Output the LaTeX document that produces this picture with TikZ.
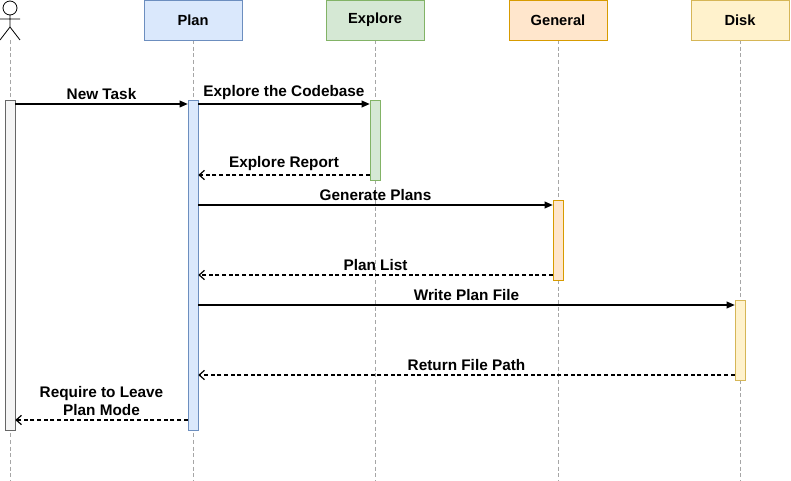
\documentclass[tikz,border=0pt]{standalone}
\usepackage{fontspec}
\setmainfont{Liberation Sans}
\usetikzlibrary{arrows.meta, positioning}
\definecolor{PlanFill}{HTML}{DAE8FC}
\definecolor{PlanLine}{HTML}{6C8EBF}
\definecolor{ExploreFill}{HTML}{D5E8D4}
\definecolor{ExploreLine}{HTML}{82B366}
\definecolor{GeneralFill}{HTML}{FFE6CC}
\definecolor{GeneralLine}{HTML}{D79B00}
\definecolor{DiskFill}{HTML}{FFF2CC}
\definecolor{DiskLine}{HTML}{D6B656}

\begin{document}
\begin{tikzpicture}[x=0.75pt, y=-0.75pt,
          head/.style={rectangle, minimum width=73.5pt, minimum height=30pt, font=\bfseries\fontsize{11}{13}\selectfont},
          life/.style={densely dashed, gray!70, line width=0.5pt},
          bar/.style={rectangle, minimum width=7.5pt, inner sep=0pt},
          call/.style={-{Triangle[length=6pt, width=5pt]}, line width=0.9pt},
          reply/.style={-{Straight Barb[length=4pt, width=7pt]}, line width=0.9pt, dash pattern=on 3pt off 2pt},
          lbl/.style={above, font=\bfseries\fontsize{11.5}{13}\selectfont, inner sep=3pt, align=center}
        ]
          \useasboundingbox (0,0) rectangle (791,481);

          % lifelines
          \draw [life] (10,40) -- (10,481);
          \draw [life] (193,40) -- (193,481);
          \draw [life] (375,40) -- (375,481);
          \draw [life] (558,40) -- (558,481);
          \draw [life] (740,40) -- (740,481);

          % actor
          \draw [line width=0.6pt] (10,8) circle (7);
          \draw [line width=0.6pt] (10,15) -- (10,27) (0,19) -- (20,19) (0,40) -- (10,27) -- (20,40);

          % headers
          \node (plan) [head, draw=PlanLine, fill=PlanFill] at (193,20) {Plan};
          \node (explore) [head, draw=ExploreLine, fill=ExploreFill] at (375,20) {Explore};
          \node (general) [head, draw=GeneralLine, fill=GeneralFill] at (558,20) {General};
          \node (disk) [head, draw=DiskLine, fill=DiskFill] at (740,20) {Disk};

          % activations
          \node (userbar) [bar, draw=gray!80!black, fill=gray!8, minimum height=247.5pt] at (10,265) {};
          \node (planbar) [bar, draw=PlanLine, fill=PlanFill, minimum height=247.5pt] at (193,265) {};
          \node (explorebar) [bar, draw=ExploreLine, fill=ExploreFill, minimum height=60pt] at (375,140) {};
          \node (generalbar) [bar, draw=GeneralLine, fill=GeneralFill, minimum height=60pt] at (558,240) {};
          \node (diskbar) [bar, draw=DiskLine, fill=DiskFill, minimum height=60pt] at (740,340) {};

          % messages
          \draw [call] (userbar.east |- 0,104) -- node[lbl] {New Task} (planbar.west |- 0,104);
          \draw [call] (planbar.east |- 0,104) -- node[lbl] {Explore the Codebase} (explorebar.west |- 0,104);
          \draw [reply] (explorebar.west |- 0,175) -- node[lbl] {Explore Report} (planbar.east |- 0,175);
          \draw [call] (planbar.east |- 0,205) -- node[lbl] {Generate Plans} (generalbar.west |- 0,205);
          \draw [reply] (generalbar.west |- 0,275) -- node[lbl] {Plan List} (planbar.east |- 0,275);
          \draw [call] (planbar.east |- 0,305) -- node[lbl] {Write Plan File} (diskbar.west |- 0,305);
          \draw [reply] (diskbar.west |- 0,375) -- node[lbl] {Return File Path} (planbar.east |- 0,375);
          \draw [reply] (planbar.west |- 0,420) -- node[lbl] {Require to Leave\\Plan Mode} (userbar.east |- 0,420);
        \end{tikzpicture}
\end{document}
